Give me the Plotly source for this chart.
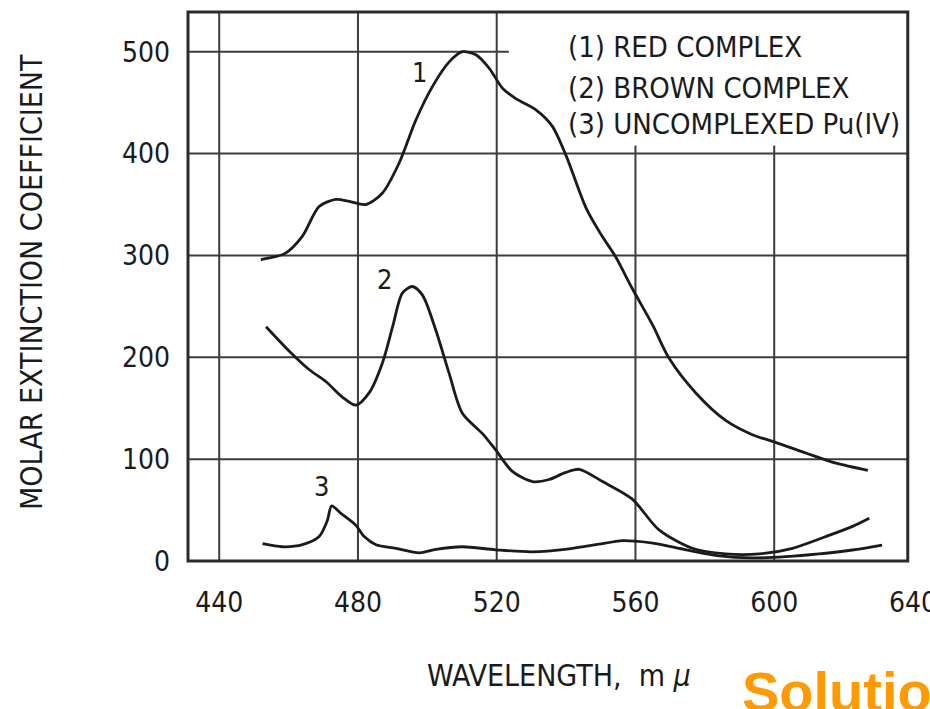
import plotly.graph_objects as go

# Absorption spectra of Pu(IV) species
red_x = [452, 459, 464, 468.8, 473.6, 477.5, 482.3, 487, 491.9, 496.7, 501.5, 506.3,
         510.1, 514, 517.8, 521.7, 525.5, 531.3, 536, 540, 545.7, 550, 554.4, 559,
         564.9, 569.7, 577.4, 586, 593.7, 600, 609.1, 617.8, 627]
red_y = [296, 302, 319, 348, 355, 353, 350, 361, 391, 433, 466, 490,
         500, 497, 484, 464, 454, 443, 427, 398, 347, 321, 298, 268,
         232, 199, 165, 138, 124, 117, 106, 96, 89]

brown_x = [453.5, 460.2, 465.9, 470.8, 475.5, 479.4, 483.2, 487, 490, 492.8, 495.7,
           498.6, 502.4, 506.3, 510.1, 515.9, 519.7, 524.5, 530.3, 535.1, 539.9, 543.8,
           550.5, 559, 566.8, 576.4, 586, 595.7, 605.3, 614.9, 622.6, 627.4]
brown_y = [230, 206, 188, 176, 161, 153, 165, 194, 230, 263, 269.5,
           261, 227, 184, 145, 125, 109, 88, 78, 80, 87, 90,
           78, 61, 30.5, 12.5, 7, 7, 12.5, 24, 34, 42]

pu_x = [452.5, 458.2, 464, 468.8, 471.2, 472.4, 475, 479.4, 481.8, 485.2, 490.9,
        497.7, 502.5, 510.1, 519.7, 530.3, 540.9, 548.6, 556.3, 560, 565, 574.6,
        584.2, 593.7, 603.3, 612.9, 622.5, 631.1]
pu_y = [17, 14, 16, 24, 40, 54, 47, 35, 24, 16, 12.5,
        8, 11.5, 14, 11, 9, 12, 16, 20, 19.5, 17.5, 11,
        5, 3, 4.3, 7, 10.8, 15.7]

x_ticks = [440, 480, 520, 560, 600, 640]
y_ticks = [0, 100, 200, 300, 400, 500]
legend_lines = ["(1) RED COMPLEX", "(2) BROWN COMPLEX", "(3) UNCOMPLEXED Pu(IV)"]
legend_y = [505, 464.5, 429.5]
curve_labels = ["1", "2", "3"]
curve_label_x = [497.7, 487.6, 469.4]
curve_label_y = [480, 276, 73]

X_RANGE = [431, 640.3]
Y_RANGE = [0, 539]
FRAME_RIGHT = 638.5

NARROW = "DejaVu Sans Condensed, Liberation Sans Narrow, sans-serif"
INK = "#1b1b1b"
GRID = "#3c3c3c"

fig = go.Figure()
for xs, ys in [(red_x, red_y), (brown_x, brown_y), (pu_x, pu_y)]:
    fig.add_trace(go.Scatter(x=xs, y=ys, mode="lines",
                             line=dict(color=INK, width=2.8, shape="spline", smoothing=0.8),
                             showlegend=False, hoverinfo="skip"))

shapes = []
# full-height verticals on the left, shortened ones under the key
for v in x_ticks[:-1]:
    top = Y_RANGE[1] if v <= 520 else 408
    shapes.append(dict(type="line", xref="x", yref="y", x0=v, x1=v, y0=Y_RANGE[0], y1=top,
                       line=dict(color=GRID, width=2), layer="below"))
for h in y_ticks[1:]:
    right = FRAME_RIGHT if h < 500 else 523.5
    shapes.append(dict(type="line", xref="x", yref="y", x0=X_RANGE[0], x1=right, y0=h, y1=h,
                       line=dict(color=GRID, width=2), layer="below"))
# outer frame
span = X_RANGE[1] - X_RANGE[0]
shapes.append(dict(type="rect", xref="paper", yref="paper",
                   x0=0, x1=(FRAME_RIGHT - X_RANGE[0]) / span, y0=0, y1=1,
                   line=dict(color="#2a2a2a", width=3), layer="above"))

annotations = []
for txt, yy in zip(legend_lines, legend_y):
    annotations.append(dict(x=540, y=yy, xref="x", yref="y", text=txt, showarrow=False,
                            xanchor="left", yanchor="middle",
                            font=dict(family=NARROW, size=29, color=INK)))
for txt, xx, yy in zip(curve_labels, curve_label_x, curve_label_y):
    annotations.append(dict(x=xx, y=yy, xref="x", yref="y", text=txt, showarrow=False,
                            font=dict(family=NARROW, size=27, color=INK)))
annotations.append(dict(x=-0.2163, y=0.508, xref="paper", yref="paper",
                        xanchor="center", yanchor="middle",
                        text="MOLAR EXTINCTION COEFFICIENT", textangle=-90, showarrow=False,
                        font=dict(family=NARROW, size=30, color=INK)))
annotations.append(dict(x=0.511, y=-0.2077, xref="paper", yref="paper",
                        xanchor="center", yanchor="middle",
                        text="WAVELENGTH,  m <i>μ</i>", showarrow=False,
                        font=dict(family=NARROW, size=30, color=INK)))
annotations.append(dict(x=0.7603, y=-0.237, xref="paper", yref="paper",
                        text="<b>Solution</b>", showarrow=False, xanchor="left", yanchor="middle",
                        font=dict(family="Liberation Sans, Arial, sans-serif", size=56,
                                  color="#ff9a00")))

fig.update_layout(
    width=930, height=709,
    margin=dict(l=188, r=16, t=12, b=148, autoexpand=False),
    paper_bgcolor="white", plot_bgcolor="white",
    shapes=shapes, annotations=annotations,
    xaxis=dict(range=X_RANGE, tickvals=x_ticks, ticks="", showgrid=False, zeroline=False,
               showline=False, ticklabelstandoff=22, ticklabeloverflow="allow",
               tickfont=dict(family=NARROW, size=28, color=INK)),
    yaxis=dict(range=Y_RANGE, tickvals=y_ticks, ticks="", showgrid=False, zeroline=False,
               showline=False, ticklabelstandoff=17,
               tickfont=dict(family=NARROW, size=28, color=INK)),
)

fig.write_html("out.html")
